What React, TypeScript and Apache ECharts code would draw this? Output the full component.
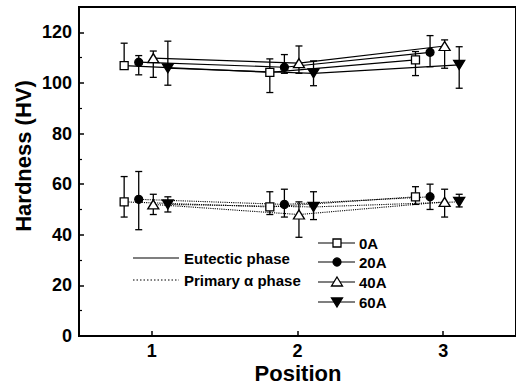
import React, { useEffect, useRef } from 'react';
import * as echarts from 'echarts';

const positions = [1, 2, 3];
const seriesNames = ['0A', '20A', '40A', '60A'];
const xOffsets = [-0.19, -0.09, 0.01, 0.11];
const yTickValues = [0, 20, 40, 60, 80, 100, 120];
const yMinorTickValues = [10, 30, 50, 70, 90, 110];

// Eutectic phase (solid lines)
const eutectic0A = [106.8, 104.2, 109.1];
const eutectic20A = [108.2, 106.2, 112.1];
const eutectic40A = [109.8, 107.8, 114.6];
const eutectic60A = [105.8, 103.8, 107.1];
const eutecticHi0A = [115.7, 109.5, 112.4];
const eutecticLo0A = [105.5, 96.2, 102.9];
const eutecticHi20A = [110.8, 111.2, 118.7];
const eutecticLo20A = [103.2, 103.8, 106.4];
const eutecticHi40A = [112.6, 114.6, 117.0];
const eutecticLo40A = [102.2, 103.8, 105.8];
const eutecticHi60A = [116.5, 108.7, 114.3];
const eutecticLo60A = [99.1, 98.9, 97.9];

// Primary alpha phase (dotted lines)
const primary0A = [53, 51, 55];
const primary20A = [54, 52, 55];
const primary40A = [52, 48, 53];
const primary60A = [52, 51, 53];
const primaryHi0A = [63, 57, 59];
const primaryLo0A = [47, 48, 52];
const primaryHi20A = [65, 58, 60];
const primaryLo20A = [42, 47, 50];
const primaryHi40A = [56, 53, 58];
const primaryLo40A = [48, 39, 47];
const primaryHi60A = [55, 57, 56];
const primaryLo60A = [49, 46, 51];

const eutecticMeans = [eutectic0A, eutectic20A, eutectic40A, eutectic60A];
const eutecticHis = [eutecticHi0A, eutecticHi20A, eutecticHi40A, eutecticHi60A];
const eutecticLos = [eutecticLo0A, eutecticLo20A, eutecticLo40A, eutecticLo60A];
const primaryMeans = [primary0A, primary20A, primary40A, primary60A];
const primaryHis = [primaryHi0A, primaryHi20A, primaryHi40A, primaryHi60A];
const primaryLos = [primaryLo0A, primaryLo20A, primaryLo40A, primaryLo60A];

const FONT = '"Liberation Sans", Arial, sans-serif';
const symbols = ['rect', 'circle', 'triangle', 'triangle'];
const symbolRotates = [0, 0, 0, 180];
const symbolSizes: any[] = [[8, 8], [8, 8], [11, 9], [11, 9]];
const filled = [false, true, false, true];

function errorSeries(data: number[][], name: string) {
  return {
    type: 'custom',
    name,
    silent: true,
    z: 1,
    data,
    encode: { x: 0, y: [1, 2] },
    renderItem: (params: any, api: any) => {
      const x = api.value(0);
      const lo = api.value(1);
      const hi = api.value(2);
      const top = api.coord([x, hi]);
      const bot = api.coord([x, lo]);
      const w = 3.5;
      const st = { stroke: '#000', lineWidth: 1.3 };
      return {
        type: 'group',
        children: [
          { type: 'line', shape: { x1: top[0], y1: top[1], x2: bot[0], y2: bot[1] }, style: st },
          { type: 'line', shape: { x1: top[0] - w, y1: top[1], x2: top[0] + w, y2: top[1] }, style: st },
          { type: 'line', shape: { x1: bot[0] - w, y1: bot[1], x2: bot[0] + w, y2: bot[1] }, style: st },
        ],
      };
    },
  };
}

function buildSeries() {
  const out: any[] = [];
  seriesNames.forEach((name, i) => {
    const xs = positions.map((p) => p + xOffsets[i]);
    out.push(errorSeries(xs.map((x, k) => [x, eutecticLos[i][k], eutecticHis[i][k]]), name + ' eutectic err'));
    out.push(errorSeries(xs.map((x, k) => [x, primaryLos[i][k], primaryHis[i][k]]), name + ' primary err'));
    const common = {
      type: 'line',
      symbol: symbols[i],
      symbolRotate: symbolRotates[i],
      symbolSize: symbolSizes[i],
      showSymbol: true,
      z: 3,
      itemStyle: { color: filled[i] ? '#000' : '#fff', borderColor: '#000', borderWidth: 1.3 },
    };
    out.push({
      ...common,
      name: name + ' eutectic',
      data: xs.map((x, k) => [x, eutecticMeans[i][k]]),
      lineStyle: { color: '#000', width: 1.2, type: 'solid' },
    });
    out.push({
      ...common,
      name: name + ' primary',
      data: xs.map((x, k) => [x, primaryMeans[i][k]]),
      lineStyle: { color: '#000', width: 1.1, type: 'dotted' },
    });
  });
  return out;
}

function legendGraphics() {
  const g: any[] = [];
  const txt = (x: number, y: number, s: string) => ({
    type: 'text',
    x,
    y,
    style: { text: s, fill: '#000', font: `bold 15px ${FONT}`, textVerticalAlign: 'middle', verticalAlign: 'middle' },
  });
  g.push({ type: 'line', shape: { x1: 133, y1: 258, x2: 179, y2: 258 }, style: { stroke: '#000', lineWidth: 1.2 } });
  g.push(txt(184, 258, 'Eutectic phase'));
  g.push({ type: 'line', shape: { x1: 133, y1: 280, x2: 179, y2: 280 }, style: { stroke: '#000', lineWidth: 1.1, lineDash: [1.5, 2] } });
  g.push(txt(184, 280, 'Primary α phase'));
  const ys = [243, 262, 282, 302];
  seriesNames.forEach((name, i) => {
    const y = ys[i];
    const cx = 337;
    g.push({ type: 'line', shape: { x1: 318, y1: y, x2: 355, y2: y }, style: { stroke: '#000', lineWidth: 1.2 } });
    const ms = { stroke: '#000', lineWidth: 1.3, fill: filled[i] ? '#000' : '#fff' };
    if (i === 0) g.push({ type: 'rect', shape: { x: cx - 4, y: y - 4, width: 8, height: 8 }, style: ms });
    if (i === 1) g.push({ type: 'circle', shape: { cx, cy: y, r: 4 }, style: ms });
    if (i === 2) g.push({ type: 'polygon', shape: { points: [[cx, y - 5], [cx + 5.5, y + 4], [cx - 5.5, y + 4]] }, style: ms });
    if (i === 3) g.push({ type: 'polygon', shape: { points: [[cx, y + 5], [cx + 5.5, y - 4], [cx - 5.5, y - 4]] }, style: ms });
    g.push(txt(359, y, name));
  });
  g.push({
    type: 'text',
    x: 298,
    y: 373,
    style: { text: 'Position', fill: '#000', font: `bold 22px ${FONT}`, textAlign: 'center', textVerticalAlign: 'middle', align: 'center', verticalAlign: 'middle' },
  });
  g.push({
    type: 'text',
    x: 23,
    y: 156,
    rotation: Math.PI / 2,
    style: { text: 'Hardness (HV)', fill: '#000', font: `bold 22px ${FONT}`, textAlign: 'center', textVerticalAlign: 'middle', align: 'center', verticalAlign: 'middle' },
  });
  return g;
}

export default function App() {
  const ref = useRef<HTMLDivElement>(null);
  useEffect(() => {
    if (!ref.current) return;
    const chart = echarts.init(ref.current, null, { renderer: 'svg' });
    const labelStyle = { fontSize: 18, fontWeight: 'bold', fontFamily: FONT, color: '#000' };
    chart.setOption({
      animation: false,
      backgroundColor: '#fff',
      grid: { left: 79, top: 7, width: 438, height: 329, show: true, borderColor: '#000', borderWidth: 2, backgroundColor: 'transparent' },
      xAxis: {
        type: 'value',
        min: 0.5,
        max: 3.5,
        axisLine: { show: true, lineStyle: { color: '#000', width: 2 } },
        axisTick: { show: true, inside: true, length: 5, customValues: positions, lineStyle: { color: '#000', width: 1.5 } },
        axisLabel: { ...labelStyle, margin: 6, customValues: positions },
        splitLine: { show: false },
      },
      yAxis: [
        {
          type: 'value',
          min: 0,
          max: 130,
          axisLine: { show: true, lineStyle: { color: '#000', width: 2 } },
          axisTick: { show: true, inside: true, length: 5, customValues: yTickValues, lineStyle: { color: '#000', width: 1.5 } },
          axisLabel: { ...labelStyle, margin: 7, customValues: yTickValues },
          splitLine: { show: false },
        },
        {
          type: 'value',
          min: 0,
          max: 130,
          position: 'left',
          offset: 0,
          axisLine: { show: false },
          axisTick: { show: true, inside: true, length: 3, customValues: yMinorTickValues, lineStyle: { color: '#000', width: 1.2 } },
          axisLabel: { show: false },
          splitLine: { show: false },
        },
      ],
      series: buildSeries(),
      graphic: legendGraphics(),
    });
    return () => chart.dispose();
  }, []);
  return <div ref={ref} style={{ position: 'fixed', left: 0, top: 0, width: 516, height: 387, background: '#fff' }} />;
}
